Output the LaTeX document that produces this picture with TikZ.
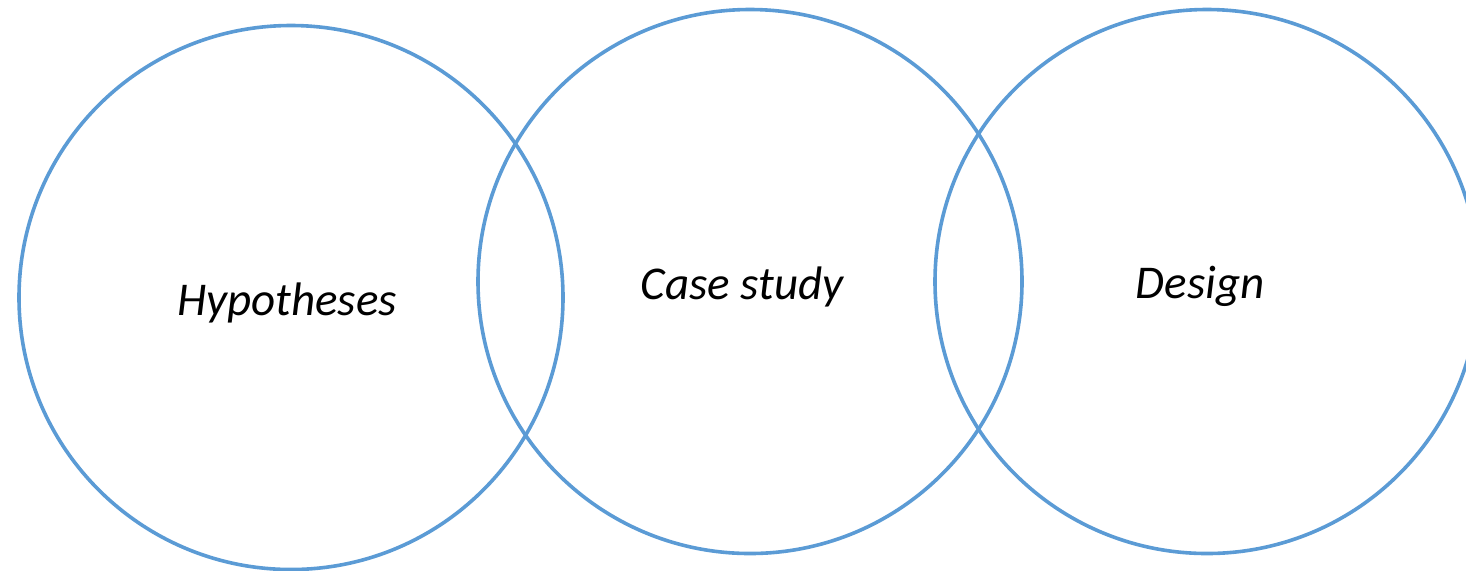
\documentclass[tikz,border=0pt]{standalone}
\usepackage{fontspec}
\setmainfont{Carlito}
\usepackage{xcolor}
\usetikzlibrary{positioning}
\definecolor{ringBlue}{HTML}{5B9BD5}

\begin{document}
\begin{tikzpicture}[
x=0.5pt, y=-0.5pt,
every node/.style={font=\fontsize{23.5}{28}\selectfont\itshape},
ring/.style={draw=ringBlue, line width=1.8pt, circle, minimum size=272pt, inner sep=0pt, outer sep=0pt}
]
\clip (0,0) rectangle (1466,570);
% three overlapping rings
\node[ring, label={[xshift=-2pt, yshift=-2.5pt]center:Hypotheses}] (H) at (291,297.5) {};
\node[ring, label={[xshift=-4pt, yshift=-2.5pt]center:Case study}] (C) at (750,281.5) {};
\node[ring, label={[xshift=-3.5pt, yshift=-2.5pt]center:Design}] (D) at (1207,281.5) {};
\end{tikzpicture}
\end{document}
